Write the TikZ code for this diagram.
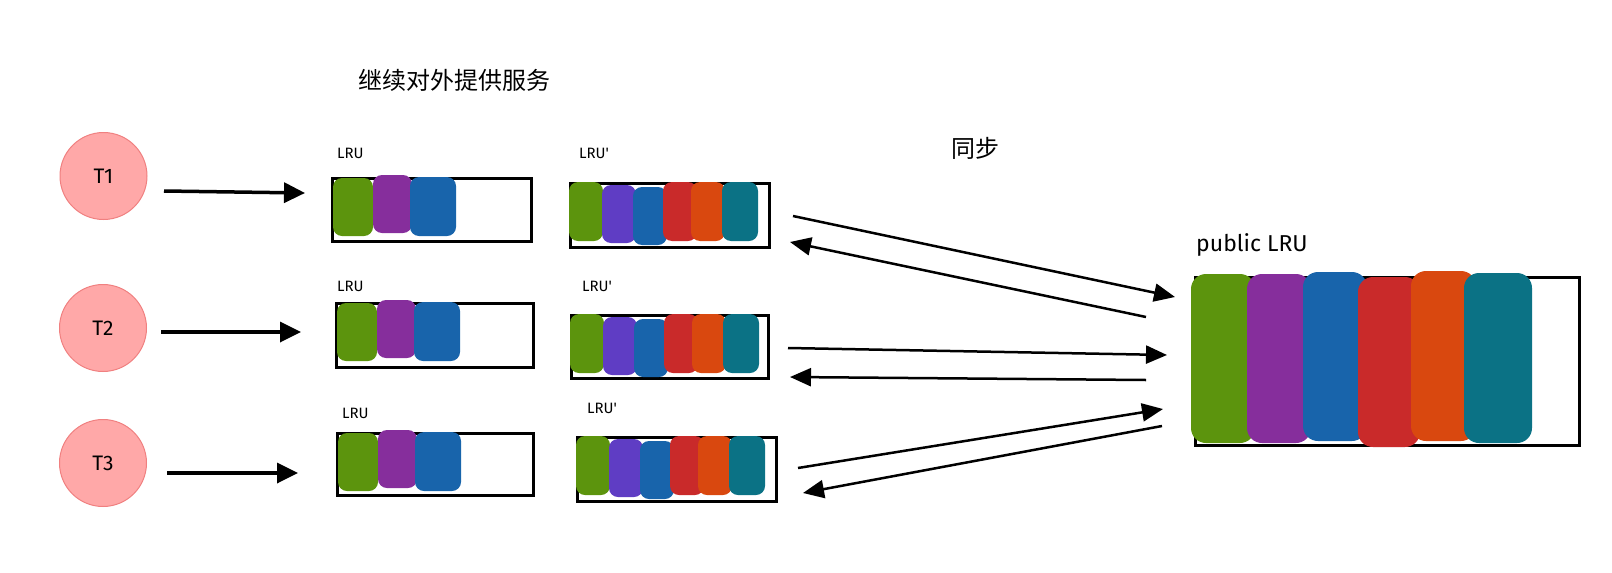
\documentclass[tikz,border=0pt]{standalone}
\usepackage{fontspec}
\setmainfont{Fira Sans}
\newfontfamily\cjk{Noto Sans CJK SC}
\usetikzlibrary{arrows.meta}
\definecolor{tfill}{HTML}{FFA8A8}
\definecolor{tdraw}{HTML}{F08080}
\definecolor{cgreen}{HTML}{5C940D}
\definecolor{cgrape}{HTML}{862E9C}
\definecolor{cviolet}{HTML}{5F3DC4}
\definecolor{cblue}{HTML}{1864AB}
\definecolor{cred}{HTML}{C92A2A}
\definecolor{corange}{HTML}{D9480F}
\definecolor{cteal}{HTML}{0B7285}
\begin{document}
\begin{tikzpicture}[x=1pt,y=-1pt,
  box/.style={draw=black, line width=3pt, inner sep=0pt, outer sep=0pt, anchor=north west, rectangle},
  thr/.style={circle, fill=tfill, draw=tdraw, line width=1pt, minimum size=87pt, inner sep=0pt, font=\fontsize{21}{21}\selectfont},
  lbl/.style={font=\fontsize{15}{15}\selectfont, anchor=west, inner sep=0pt},
  cjklbl/.style={font=\cjk\fontsize{24}{24}\selectfont, inner sep=0pt},
  bar/.style={rounded corners=9pt},
  bigbar/.style={rounded corners=15pt},
  tconn/.style={line width=3.5pt, -{Triangle[length=21pt,width=20pt]}},
  sconn/.style={line width=2.5pt, -{Triangle[length=21pt,width=18pt]}}
]
\useasboundingbox (0,0) rectangle (1612,573);

% titles
\node[cjklbl] (title) at (454,80) {继续对外提供服务};
\node[cjklbl] (sync) at (975,148) {同步};

% threads
\node[thr] (t1) at (103.5,176) {T1};
\node[thr] (t2) at (103,328) {T2};
\node[thr] (t3) at (103,463) {T3};

% local LRU boxes
\node[box, minimum width=199pt, minimum height=63pt] (l1) at (332,178) {};
\node[box, minimum width=197pt, minimum height=64pt] (l2) at (336,303) {};
\node[box, minimum width=196pt, minimum height=62pt] (l3) at (337,433) {};
% LRU' boxes
\node[box, minimum width=199pt, minimum height=64pt] (p1) at (570,183) {};
\node[box, minimum width=197pt, minimum height=63pt] (p2) at (571,315) {};
\node[box, minimum width=199pt, minimum height=64pt] (p3) at (577,437) {};
% public box
\node[box, minimum width=384pt, minimum height=168pt] (pub) at (1195,277) {};

% labels
\node[lbl] (ll1) at (337,153) {LRU};
\node[lbl] (pl1) at (579,153) {LRU\textquotesingle};
\node[lbl] (ll2) at (337,286) {LRU};
\node[lbl] (pl2) at (582,286) {LRU\textquotesingle};
\node[lbl] (ll3) at (342,413) {LRU};
\node[lbl] (pl3) at (587,408) {LRU\textquotesingle};
\node[lbl, font=\fontsize{23}{23}\selectfont] (publbl) at (1196,245) {public LRU};

% bars in LRU boxes
\foreach \b in {l1,l2,l3}{
  \begin{scope}[shift={(\b.north west)}]
    \fill[cgreen, bar] (1,0) rectangle (41,58);
    \fill[cgrape, bar] (41,-3) rectangle (80,55);
    \fill[cblue, bar] (78,-1) rectangle (124,58);
  \end{scope}
}
% bars in LRU' boxes
\foreach \b in {p1,p2,p3}{
  \begin{scope}[shift={(\b.north west)}]
    \fill[cgreen, bar] (-1,-1) rectangle (33,58);
    \fill[cviolet, bar] (32,2) rectangle (66,60);
    \fill[cblue, bar] (63,4) rectangle (97,62);
    \fill[cred, bar] (93,-1) rectangle (127,58);
    \fill[corange, bar] (121,-1) rectangle (155,58);
    \fill[cteal, bar] (152,-1) rectangle (188,58);
  \end{scope}
}
% bars in public box
\begin{scope}[shift={(pub.north west)}]
  \fill[cgreen, bigbar] (-4,-3) rectangle (60,166);
  \fill[cgrape, bigbar] (52,-3) rectangle (116,166);
  \fill[cblue, bigbar] (108,-5) rectangle (172,164);
  \fill[cred, bigbar] (163,0) rectangle (225,170);
  \fill[corange, bigbar] (216,-6) rectangle (281,164);
  \fill[cteal, bigbar] (269,-4) rectangle (337,166);
\end{scope}

% thread arrows
\coordinate (a1s) at (164,191); \coordinate (a1e) at (305,193);
\coordinate (a2s) at (161,332); \coordinate (a2e) at (301,332);
\coordinate (a3s) at (167,473); \coordinate (a3e) at (298,473);
\draw[tconn] (a1s) -- (a1e);
\draw[tconn] (a2s) -- (a2e);
\draw[tconn] (a3s) -- (a3e);

% sync arrows
\coordinate (s1a) at (793,216); \coordinate (s1b) at (1175,297);
\coordinate (r1a) at (1146,317); \coordinate (r1b) at (790,242);
\coordinate (s2a) at (788,348); \coordinate (s2b) at (1167,355);
\coordinate (r2a) at (1146,380); \coordinate (r2b) at (790,377);
\coordinate (s3a) at (798,468); \coordinate (s3b) at (1163,409);
\coordinate (r3a) at (1162,426); \coordinate (r3b) at (803,493);
\draw[sconn] (s1a) -- (s1b);
\draw[sconn] (r1a) -- (r1b);
\draw[sconn] (s2a) -- (s2b);
\draw[sconn] (r2a) -- (r2b);
\draw[sconn] (s3a) -- (s3b);
\draw[sconn] (r3a) -- (r3b);
\end{tikzpicture}
\end{document}
